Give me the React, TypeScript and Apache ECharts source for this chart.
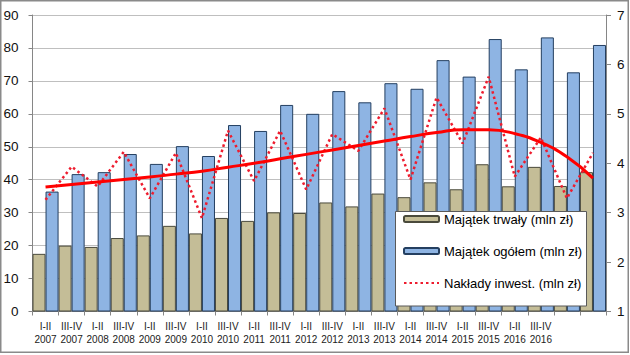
import React, { useEffect, useRef } from "react";
import * as echarts from "echarts";

const periods = ["I-II", "III-IV", "I-II", "III-IV", "I-II", "III-IV", "I-II", "III-IV", "I-II", "III-IV", "I-II", "III-IV", "I-II", "III-IV", "I-II", "III-IV", "I-II", "III-IV", "I-II", "III-IV", "", ""];
const years = ["2007", "2007", "2008", "2008", "2009", "2009", "2010", "2010", "2011", "2011", "2012", "2012", "2013", "2013", "2014", "2014", "2015", "2015", "2016", "2016", "", ""];

const majatekTrwaly = [17.5, 20.0, 19.6, 22.3, 23.1, 26.0, 23.7, 28.4, 27.5, 30.1, 29.9, 33.1, 31.9, 35.8, 34.7, 39.2, 37.1, 44.7, 38.0, 43.9, 38.1, 42.3];
const majatekOgolem = [36.4, 41.7, 42.3, 47.8, 44.8, 50.2, 47.2, 56.6, 54.8, 62.7, 60.0, 66.9, 63.5, 69.3, 67.6, 76.3, 71.3, 82.7, 73.5, 83.2, 72.6, 80.9];
const naklady = [3.26, 3.93, 3.53, 4.23, 3.29, 4.21, 2.89, 4.66, 3.64, 4.66, 3.47, 4.59, 4.25, 5.11, 3.67, 5.33, 4.40, 5.75, 3.73, 4.52, 3.29, 4.21];
const trend = [3.52, 3.57, 3.62, 3.67, 3.72, 3.78, 3.84, 3.92, 4.0, 4.09, 4.18, 4.27, 4.36, 4.45, 4.54, 4.62, 4.68, 4.68, 4.6, 4.42, 4.13, 3.7];

const leftTicks = { min: 0, max: 90, interval: 10 };
const rightTicks = { min: 1, max: 7, interval: 1 };

const FONT = "'Liberation Sans', Arial, sans-serif";

export default function App() {
  const ref = useRef<HTMLDivElement>(null);
  useEffect(() => {
    if (!ref.current) return;
    const chart = echarts.init(ref.current, undefined, { renderer: "svg" });
    const categories = periods.map((p, i) => (p ? p + "\n" + years[i] : ""));
    chart.setOption({
      animation: false,
      backgroundColor: "#ffffff",
      textStyle: { fontFamily: FONT },
      grid: { left: 32.5, right: 24, top: 15, bottom: 43.5, containLabel: false },
      graphic: [
        {
          type: "rect",
          shape: { x: 0.75, y: 0.75, width: 627.5, height: 351.5 },
          style: { fill: "none", stroke: "#8a8a8a", lineWidth: 1.5 },
          z: 0,
          silent: true,
        },
        {
          type: "rect",
          shape: { x: 395.5, y: 211.5, width: 191, height: 94.5 },
          style: { fill: "#ffffff", stroke: "#595959", lineWidth: 1 },
          z: 10,
          zlevel: 0,
          silent: true,
        },
      ],
      legend: {
        orient: "vertical",
        left: 398,
        top: 212,
        padding: [0, 0, 0, 5],
        itemWidth: 35,
        itemHeight: 6,
        itemGap: 18,
        z: 20,
        textStyle: { fontSize: 13, color: "#000", fontFamily: FONT, lineHeight: 14 },
        data: [
          { name: "Majątek trwały (mln zł)" },
          { name: "Majątek ogółem (mln zł)" },
          { name: "Nakłady inwest. (mln zł)", itemStyle: { opacity: 0 } },
        ],
      },
      xAxis: {
        type: "category",
        data: categories,
        boundaryGap: true,
        axisLine: { lineStyle: { color: "#868686" } },
        axisTick: { show: true, length: 4, inside: false, lineStyle: { color: "#868686" } },
        axisLabel: {
          interval: 0,
          fontSize: 10,
          lineHeight: 13,
          color: "#222",
          margin: 8,
          fontFamily: FONT,
        },
      },
      yAxis: [
        {
          type: "value",
          min: leftTicks.min,
          max: leftTicks.max,
          interval: leftTicks.interval,
          position: "left",
          axisLine: { show: true, lineStyle: { color: "#868686" } },
          axisTick: { show: true, length: 4, lineStyle: { color: "#868686" } },
          axisLabel: { fontSize: 13.5, color: "#111", margin: 14, fontFamily: FONT },
          splitLine: { show: true, lineStyle: { color: "#BFBFBF", width: 1 } },
        },
        {
          type: "value",
          min: rightTicks.min,
          max: rightTicks.max,
          interval: rightTicks.interval,
          position: "right",
          axisLine: { show: true, lineStyle: { color: "#868686" } },
          axisTick: { show: true, length: 5, lineStyle: { color: "#868686" } },
          axisLabel: { fontSize: 13.5, color: "#111", margin: 11, fontFamily: FONT },
          splitLine: { show: false },
        },
      ],
      series: [
        {
          name: "Majątek trwały (mln zł)",
          type: "bar",
          yAxisIndex: 0,
          data: majatekTrwaly,
          barGap: "0%",
          barCategoryGap: "0%",
          itemStyle: { color: "#C4BD97", borderColor: "#4a4a3c", borderWidth: 1 },
          z: 2,
        },
        {
          name: "Majątek ogółem (mln zł)",
          type: "bar",
          yAxisIndex: 0,
          data: majatekOgolem,
          barGap: "0%",
          barCategoryGap: "0%",
          itemStyle: { color: "#8EB4E3", borderColor: "#243F60", borderWidth: 1 },
          z: 2,
        },
        {
          name: "Nakłady inwest. (mln zł)",
          type: "line",
          yAxisIndex: 1,
          data: naklady,
          symbol: "none",
          showSymbol: false,
          lineStyle: { color: "#EE1C2E", width: 2.5, type: [2.5, 3] },
          itemStyle: { color: "#EE1C2E" },
          z: 4,
        },
        {
          name: "trend",
          type: "line",
          yAxisIndex: 1,
          data: trend,
          smooth: true,
          symbol: "none",
          showSymbol: false,
          lineStyle: { color: "#FF0000", width: 3 },
          itemStyle: { color: "#FF0000" },
          z: 5,
        },
      ],
    });
    return () => chart.dispose();
  }, []);
  return (
    <div
      ref={ref}
      style={{ position: "absolute", left: 0, top: 0, width: 630, height: 355 }}
    />
  );
}
